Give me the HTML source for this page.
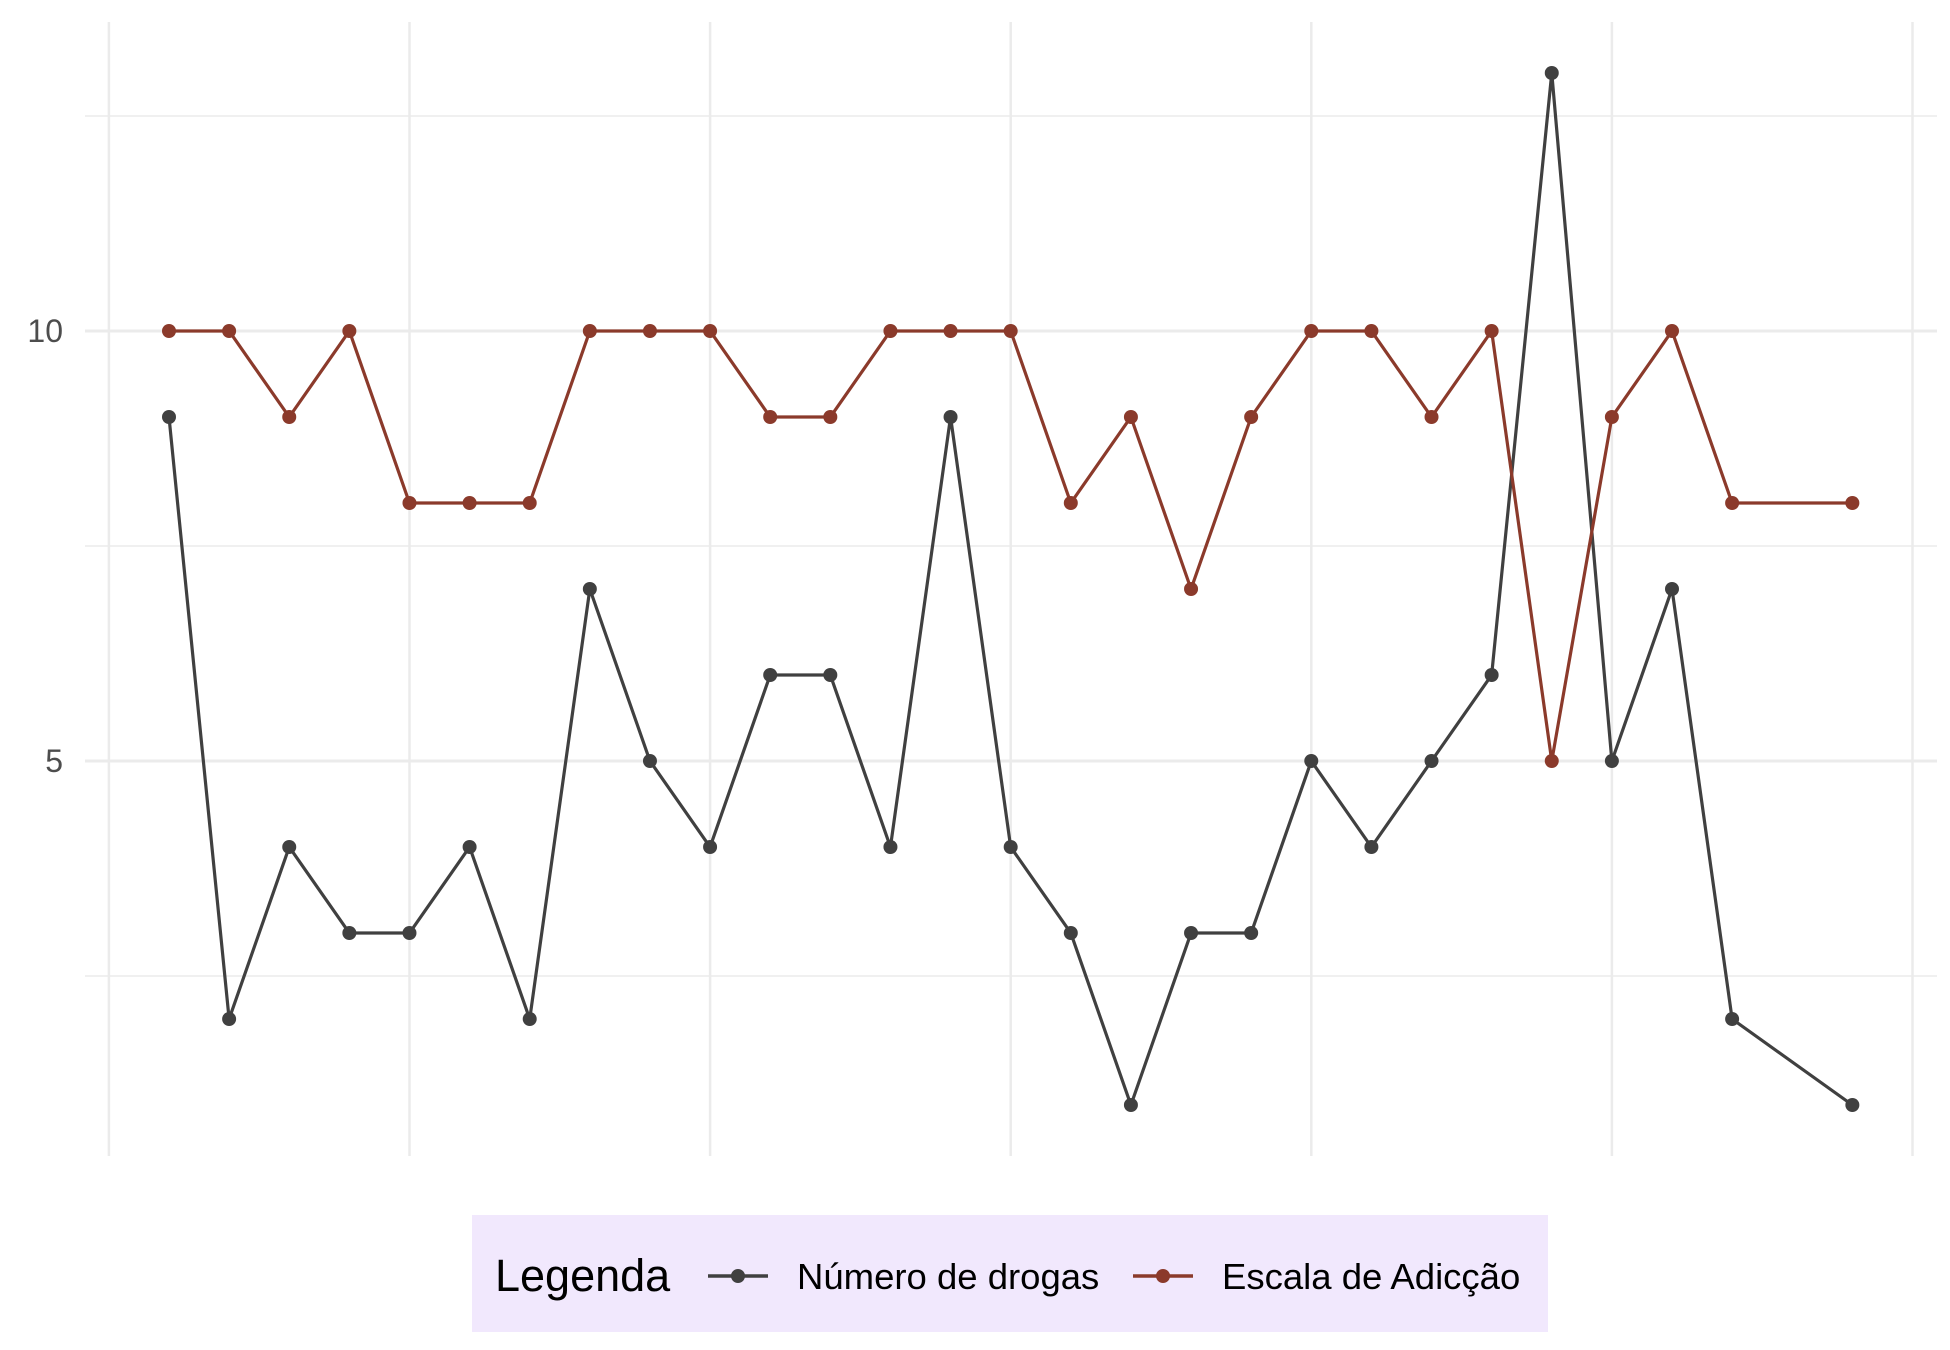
<!DOCTYPE html>
<html><head><meta charset="utf-8"><style>
html,body{margin:0;padding:0;background:#fff}
svg{display:block;font-family:"Liberation Sans",sans-serif}
</style></head><body>
<svg id="chart" width="1950" height="1350">
<g id="grid"></g>
<g id="yaxis"></g>
<g id="series"></g>
<g>
<rect x="472" y="1215" width="1076" height="117" fill="#f1e8fd"/>
<text x="495" y="1291" font-size="45" fill="#000">Legenda</text>
<g>
<line x1="708" y1="1276" x2="768" y2="1276" stroke="#404040" stroke-width="3.5"/>
<circle cx="738" cy="1276" r="7" fill="#404040"/>
<text x="797" y="1289" font-size="36.5" fill="#000">Número de drogas</text></g>
<g>
<line x1="1133" y1="1276" x2="1193" y2="1276" stroke="#8b3a2b" stroke-width="3.5"/>
<circle cx="1163" cy="1276" r="7" fill="#8b3a2b"/>
<text x="1222" y="1289" font-size="36.5" fill="#000">Escala de Adicção</text></g>
</g>
</svg>
<script>
const xIndex=[1,2,3,4,5,6,7,8,9,10,11,12,13,14,15,16,17,18,19,20,21,22,23,24,25,26,27,29];
const drogas=[9,2,4,3,3,4,2,7,5,4,6,6,4,9,4,3,1,3,3,5,4,5,6,13,5,7,2,1];
const adiccao=[10,10,9,10,8,8,8,10,10,10,9,9,10,10,10,8,9,7,9,10,10,9,10,5,9,10,8,8];
const yTicks=[5,10];
const yMinor=[2.5,7.5,12.5];
const xGrid=[0,5,10,15,20,25,30];
const NS="http://www.w3.org/2000/svg";
function sx(i){return 169+(i-1)*60.12;}
function sy(v){return 761-(v-5)*86;}
function mk(tag,attrs,parent){const e=document.createElementNS(NS,tag);for(const k in attrs)e.setAttribute(k,attrs[k]);parent.appendChild(e);return e;}
const grid=document.getElementById('grid'),yax=document.getElementById('yaxis'),ser=document.getElementById('series');
yMinor.forEach(v=>{const l=mk('line',{x1:85,x2:1937,y1:sy(v),y2:sy(v),stroke:'#ebebeb','stroke-width':1.5},grid);

});
xGrid.forEach(i=>{const l=mk('line',{x1:sx(i),x2:sx(i),y1:22,y2:1156,stroke:'#ebebeb','stroke-width':2.5},grid);

});
yTicks.forEach(v=>{const l=mk('line',{x1:85,x2:1937,y1:sy(v),y2:sy(v),stroke:'#ebebeb','stroke-width':3},grid);


const t=mk('text',{x:63,y:sy(v)+11,'text-anchor':'end','font-size':32,fill:'#4d4d4d'},yax);t.textContent=v;

});
function draw(vals,color,name){
const p=mk('polyline',{points:vals.map((v,k)=>sx(xIndex[k])+','+sy(v)).join(' '),fill:'none',stroke:color,'stroke-width':3.2},ser);


vals.forEach((v,k)=>{const c=mk('circle',{cx:sx(xIndex[k]),cy:sy(v),r:7,fill:color},ser);

});}
draw(drogas,'#404040','numero-drogas');
draw(adiccao,'#8b3a2b','escala-adiccao');
</script>
</body></html>
